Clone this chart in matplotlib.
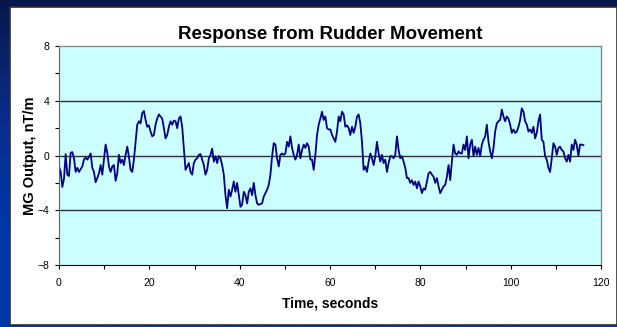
import matplotlib.pyplot as plt
import numpy as np
from matplotlib.patches import Rectangle
from matplotlib.ticker import MultipleLocator

# MG output trace, one sample every ~0.37 s
mg_part1 = [-0.8, -1.2, -2.3, -1.7, 0.1, -1.4, -1.5, 0.2, 0.25, -0.2, -1.2, -0.9,
            -1.2, -1.0, -0.8, -0.3, -0.15, -0.3, -0.1, 0.15, -0.9, -1.2, -1.95, -1.65,
            -1.3, -0.7, -1.4, -0.3, 0.8, 0.2, -0.8, -1.2, -0.8, -0.7, -1.85, -1.3,
            0.05, -0.55, -0.3, -0.7, 0.05, 0.65, -0.1, -1.05, -1.2, -0.3, 1.0, 2.25,
            2.5, 2.35, 3.1, 3.25, 2.6, 2.1, 2.2, 1.75, 1.4, 1.5, 2.25, 2.7,
            3.0, 2.85, 2.7, 2.0, 1.25, 1.5, 2.1, 2.5, 2.25, 2.55, 2.5, 2.0,
            2.7, 2.85, 2.1, 0.55, -1.05, -0.8, -0.55, -1.2, -1.4, -0.55]
mg_part2 = [-0.3, -0.2, 0.05, 0.1, -0.3, -0.7, -1.4, -1.05, -0.2, 0.05, 0.5, -0.45,
            -0.05, -0.55, -0.05, -0.2, -0.7, -1.4, -2.9, -3.85, -2.5, -3.0, -2.5, -1.9,
            -2.65, -2.0, -2.9, -3.75, -3.6, -2.65, -2.9, -3.5, -2.65, -2.4, -2.9, -2.0,
            -2.9, -3.5, -3.6, -3.55, -3.5, -3.0, -2.75, -2.5, -2.15, -1.4, -0.05, 0.9,
            0.8, -0.2, -0.8, 0.05, 0.15, 0.05, 0.15, 1.0, 0.65, 1.4, 0.55, 0.05,
            -0.3, 0.05, 0.8, -0.2, 0.4, 0.8, 0.55, 0.9, 0.65, -0.3, -0.3, -1.05,
            0.05, 1.5, 2.25, 2.7, 3.2, 2.6, 2.85, 2.0, 1.9]
mg_part3 = [1.9, 1.5, 1.25, 1.0, 1.75, 2.85, 2.5, 3.2, 3.0, 2.1, 2.2, 2.0,
            1.5, 2.1, 1.65, 2.1, 2.85, 3.0, 2.35, 1.0, -1.05, -0.8, -1.2, -0.45,
            0.15, -0.2, -0.7, -0.05, 1.0, 0.15, -0.45, 0.05, -0.55, -0.3, -1.2, -0.55,
            -0.05, -0.05, -0.2, 0.05, 1.4, 0.4, -0.2, -0.05, -0.45, -0.9, -1.65, -1.65,
            -2.0, -1.8, -2.15, -1.9, -2.4, -1.9, -2.25, -2.75, -2.4, -2.5, -1.9, -1.3,
            -1.2, -1.4, -1.55, -2.0, -1.65, -2.25, -2.75, -2.5, -2.25, -2.15, -1.55, -0.7,
            -1.8, -0.45, 0.8, 0.15, 0.05, 0.3, 0.15, 0.15, 0.8]
mg_part4 = [0.4, 1.4, -0.2, 0.8, 1.15, -0.05, 0.65, 0.05, 0.55, -0.05, 0.8, 1.15,
            1.4, 2.25, 1.0, 0.3, -0.2, 0.55, 1.75, 2.35, 2.5, 2.6, 3.35, 2.85,
            2.5, 2.85, 2.7, 2.25, 1.65, 1.9, 1.65, 1.75, 2.1, 2.6, 3.45, 3.2,
            2.5, 2.25, 1.75, 1.9, 1.65, 2.1, 1.25, 1.65, 2.5, 3.0, 1.15, 1.0,
            -0.05, -0.3, -0.9, -1.2, -0.2, 0.9, 0.65, 0.05, 0.55, 0.65, 0.4, 0.3,
            -0.2, -0.45, 0.05, -0.45, 0.8, 0.4, 1.15, 0.8, -0.05, 0.8, 0.8, 0.75]

mg_output = np.array(mg_part1 + mg_part2 + mg_part3 + mg_part4)
time_s = np.linspace(0, 116.1, len(mg_output))

fig = plt.figure(figsize=(6.17, 3.27), dpi=100)
plt.rcParams['font.family'] = ['Liberation Sans', 'DejaVu Sans']

# slide background: navy fading to royal blue
bg = fig.add_axes([0, 0, 1, 1], zorder=-2)
grad = np.linspace(0, 1, 256).reshape(-1, 1)
cmap = plt.matplotlib.colors.LinearSegmentedColormap.from_list(
    'slide', ['#07174a', '#0a2c86', '#0036a6', '#0036a6'])
bg.imshow(grad, aspect='auto', cmap=cmap, extent=[0, 1, 0, 1], origin='upper')
bg.set_axis_off()

# white chart panel
W, H = 617, 327
bg.add_patch(Rectangle((10 / W, 1 - 325 / H), 1 - 10 / W, (325 - 7) / H,
                       facecolor='white', edgecolor='#303030', lw=1.2,
                       transform=bg.transAxes))

ax = fig.add_axes([59 / W, 1 - 265 / H, (601 - 59) / W, (265 - 46) / H])
ax.set_facecolor('#ccffff')
ax.plot(time_s, mg_output, color='#000080', lw=1.3)

ax.set_xlim(0, 120)
ax.set_ylim(-8, 8)
ax.xaxis.set_major_locator(MultipleLocator(20))
ax.xaxis.set_minor_locator(MultipleLocator(10))
ax.yaxis.set_major_locator(MultipleLocator(4))
ax.yaxis.set_minor_locator(MultipleLocator(2))
ax.tick_params(which='both', direction='out', length=3, width=0.8,
               color='black', labelsize=7.5)
ax.tick_params(axis='x', pad=6)
ax.tick_params(axis='y', pad=4)

for y in (-4, 0, 4):
    ax.axhline(y, color='#303030', lw=1.0, zorder=1)

for side in ('top', 'right'):
    ax.spines[side].set_color('#8a8a8a')
    ax.spines[side].set_linewidth(1.0)
ax.spines['left'].set_color('#606060')
ax.spines['bottom'].set_color('black')

ax.set_title('Response from Rudder Movement', fontsize=13.5, fontweight='bold', pad=5)
ax.set_xlabel('Time, seconds', fontsize=10, fontweight='bold')
ax.set_ylabel('MG Output, nT/m', fontsize=10.5, fontweight='bold')
ax.xaxis.set_label_coords(0.5, -0.142)
ax.yaxis.set_label_coords(-0.041, 0.5)

fig.savefig('out.png', dpi=100)
